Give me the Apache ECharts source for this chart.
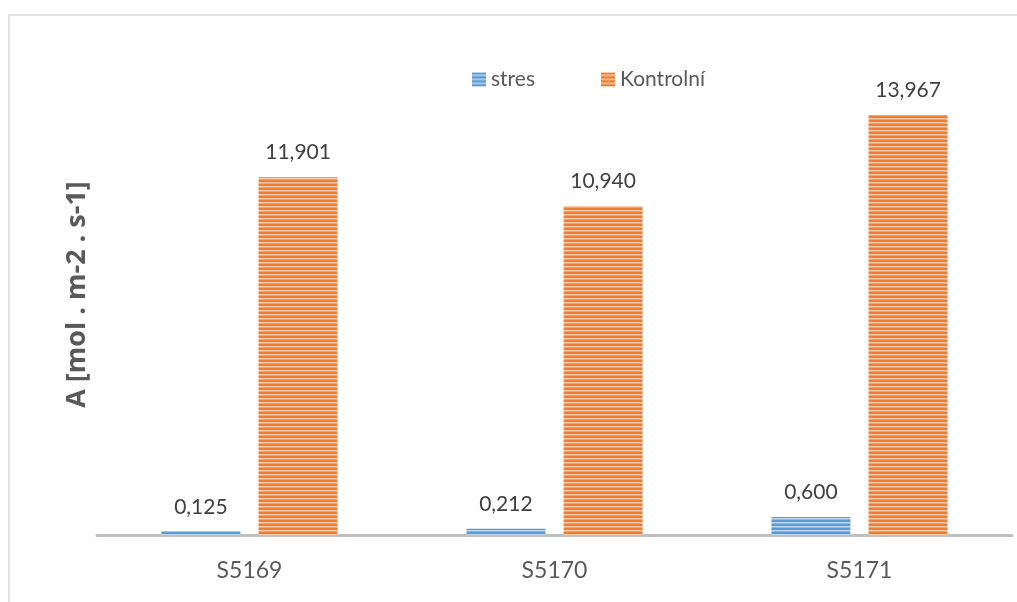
<!DOCTYPE html>
<html>
<head>
<meta charset="utf-8">
<script src="https://cdn.jsdelivr.net/npm/echarts@6/dist/echarts.min.js"></script>
<style>
  html, body { margin: 0; padding: 0; background: #ffffff; }
  #chart { width: 1017px; height: 602px; }
</style>
</head>
<body>
<div id="chart"></div>
<script>
// Samples on the x axis
const categories = ['S5169', 'S5170', 'S5171'];
// Series values
const stresValues = [0.125, 0.212, 0.600];
const kontrolniValues = [11.901, 10.940, 13.967];
const seriesNames = ['stres', 'Kontrolní'];
const yAxisTitle = 'A [mol . m-2 . s-1]';

const FONT = 'Lato, "Open Sans", sans-serif';

// Narrow horizontal stripe fill used by the bars
function stripePattern(dark, mid, light) {
  const c = document.createElement('canvas');
  c.width = 4; c.height = 4;
  const ctx = c.getContext('2d');
  ctx.fillStyle = dark;  ctx.fillRect(0, 0, 4, 2);
  ctx.fillStyle = light; ctx.fillRect(0, 2, 4, 1);
  ctx.fillStyle = mid;   ctx.fillRect(0, 3, 4, 1);
  return { image: c, repeat: 'repeat' };
}

const bluePattern = stripePattern('#5B9BD5', '#8DBAE3', '#BDD7EE');
const orangePattern = stripePattern('#ED7D31', '#F3A46E', '#F8CBAD');

const fmt = p => p.value.toFixed(3).replace('.', ',');

const labelStyle = {
  show: true,
  position: 'top',
  distance: 14,
  formatter: fmt,
  fontFamily: FONT,
  fontSize: 21,
  color: '#404040'
};

const chart = echarts.init(document.getElementById('chart'), null, { renderer: 'canvas' });

chart.setOption({
  animation: false,
  backgroundColor: '#ffffff',
  graphic: [{
    type: 'rect',
    shape: { x: 9, y: 15, width: 1100, height: 700 },
    style: { fill: 'none', stroke: '#d9d9d9', lineWidth: 1.5 },
    silent: true
  }],
  legend: {
    left: 467,
    top: 64,
    itemWidth: 14,
    itemHeight: 14,
    itemGap: 66,
    icon: 'rect',
    textStyle: { fontFamily: FONT, fontSize: 21, color: '#595959' },
    data: seriesNames
  },
  grid: { left: 97, right: 5, top: 54, bottom: 67, containLabel: false },
  xAxis: {
    type: 'category',
    data: categories,
    axisLine: { lineStyle: { color: '#bfbfbf', width: 3 } },
    axisTick: { show: false },
    axisLabel: { fontFamily: FONT, fontSize: 23, color: '#595959', margin: 24 }
  },
  yAxis: {
    type: 'value',
    min: 0,
    max: 16,
    interval: 2,
    name: yAxisTitle,
    nameLocation: 'middle',
    nameRotate: 90,
    nameGap: 6,
    nameTextStyle: { fontFamily: '"Open Sans", Lato, sans-serif', fontSize: 27, fontWeight: 'bold', color: '#595959' },
    axisLine: { show: false },
    axisTick: { show: false },
    axisLabel: { show: false },
    splitLine: { show: false }
  },
  series: [
    {
      name: seriesNames[0],
      type: 'bar',
      data: stresValues,
      barWidth: 79,
      barGap: '23%',
      itemStyle: { color: bluePattern },
      label: labelStyle
    },
    {
      name: seriesNames[1],
      type: 'bar',
      data: kontrolniValues,
      barWidth: 79,
      barGap: '23%',
      itemStyle: { color: orangePattern },
      label: labelStyle
    }
  ]
});
</script>
</body>
</html>
